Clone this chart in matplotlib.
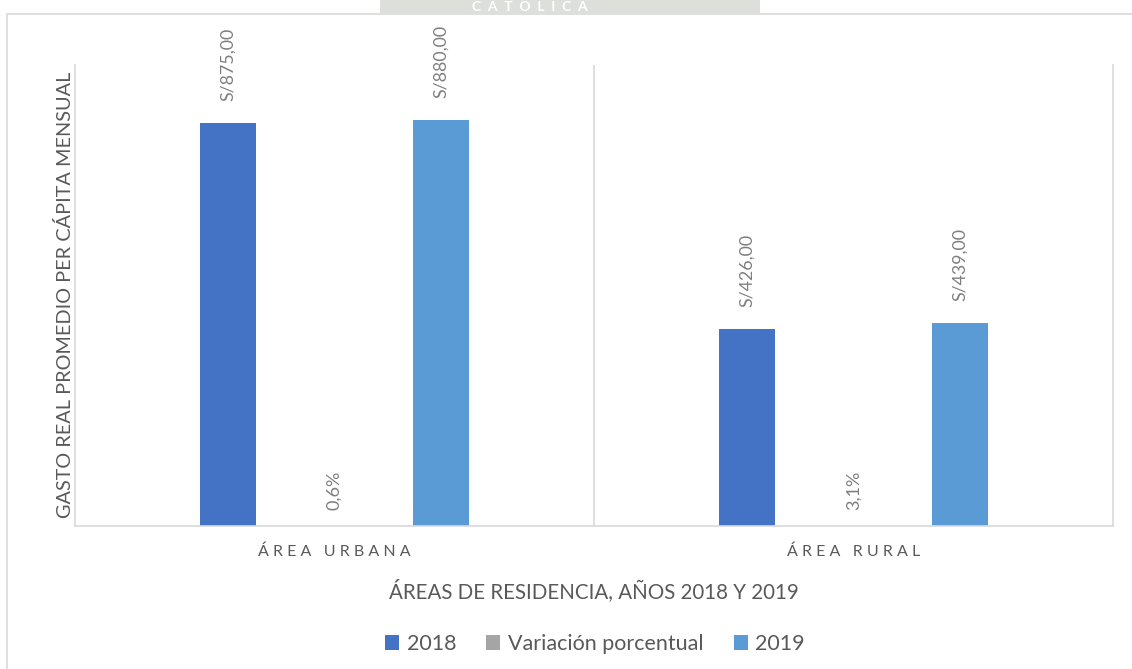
import matplotlib.pyplot as plt
from matplotlib.patches import Rectangle
import numpy as np

# datos
categorias = ['ÁREA URBANA', 'ÁREA RURAL']
gasto_2018 = [875, 426]
gasto_2019 = [880, 439]
variacion = [0.6, 3.1]          # en %
series = ['2018', 'Variación porcentual', '2019']

c2018 = '#4472C4'
cvar = '#A5A5A5'
c2019 = '#5B9BD5'
gris_txt = '#595959'
gris_lab = '#7F7F7F'
gris_lin = '#D9D9D9'

plt.rcParams['font.family'] = ['Lato', 'DejaVu Sans']

W, H = 1132, 669
fig = plt.figure(figsize=(W / 100, H / 100), dpi=100)

# marco exterior del gráfico
fig.patches.append(Rectangle((7 / W, -0.1), 1.2, (H - 14) / H + 0.1, transform=fig.transFigure,
                             fill=False, edgecolor=gris_lin, linewidth=1.2, zorder=0))

# marca de agua
fig.patches.append(Rectangle((380 / W, 1 - 14 / H), 380 / W, 14 / H, transform=fig.transFigure,
                             facecolor='#DCDFDA', edgecolor='none', zorder=0))
fig.text(530 / W, 1 - 7 / H, 'C  A  T  O  L  I  C  A', color='white', fontsize=10,
         fontweight='bold', ha='center', va='center', zorder=1)

ax = fig.add_axes([75 / W, (H - 525.5) / H, (1113 - 75) / W, (525.5 - 65) / H])

x = np.arange(len(categorias))
ancho = 0.108
desp = 0.206
b1 = ax.bar(x - desp, gasto_2018, ancho, color=c2018, label=series[0], zorder=2)
b2 = ax.bar(x, [0, 0], ancho, color=cvar, label=series[1], zorder=2)
b3 = ax.bar(x + desp, gasto_2019, ancho, color=c2019, label=series[2], zorder=2)

for barras, vals in [(b1, gasto_2018), (b3, gasto_2019)]:
    for b, v in zip(barras, vals):
        ax.annotate(f'S/{v:,.2f}'.replace('.', ','), (b.get_x() + b.get_width() / 2, v),
                    xytext=(0, 22), textcoords='offset pixels', rotation=90,
                    ha='center', va='bottom', color=gris_lab, fontsize=12.8)
for b, v in zip(b2, variacion):
    ax.annotate(f'{v:.1f}%'.replace('.', ','), (b.get_x() + b.get_width() / 2, 0),
                xytext=(0, 15), textcoords='offset pixels', rotation=90,
                ha='center', va='bottom', color=gris_lab, fontsize=13)

ax.set_ylim(0, 1000)
ax.set_xlim(-0.5, len(categorias) - 0.5)
ax.set_yticks([])
ax.set_xticks(x)
ax.set_xticklabels([' '.join(c) for c in categorias], color=gris_txt, fontsize=11.5)
ax.tick_params(axis='x', length=0, pad=14)
ax.axvline(0.5, color=gris_lin, linewidth=1.2, zorder=1)
for s in ['left', 'right', 'bottom']:
    ax.spines[s].set_color(gris_lin)
    ax.spines[s].set_linewidth(1.2)
ax.spines['top'].set_visible(False)

ax.set_ylabel('GASTO REAL PROMEDIO PER CÁPITA MENSUAL', color=gris_txt, fontsize=14.3, labelpad=1)
ax.set_xlabel('ÁREAS DE RESIDENCIA, AÑOS 2018 Y 2019', color=gris_txt, fontsize=14.8, labelpad=14)

fig.legend(handles=[b1, b2, b3], labels=series, loc='center', bbox_to_anchor=(595 / W, 1 - 644 / H),
           ncol=3, frameon=False, fontsize=15.5, labelcolor=gris_txt, handlelength=0.65,
           handleheight=0.65, handletextpad=0.35, columnspacing=1.4)

fig.savefig('out.png', dpi=100)
